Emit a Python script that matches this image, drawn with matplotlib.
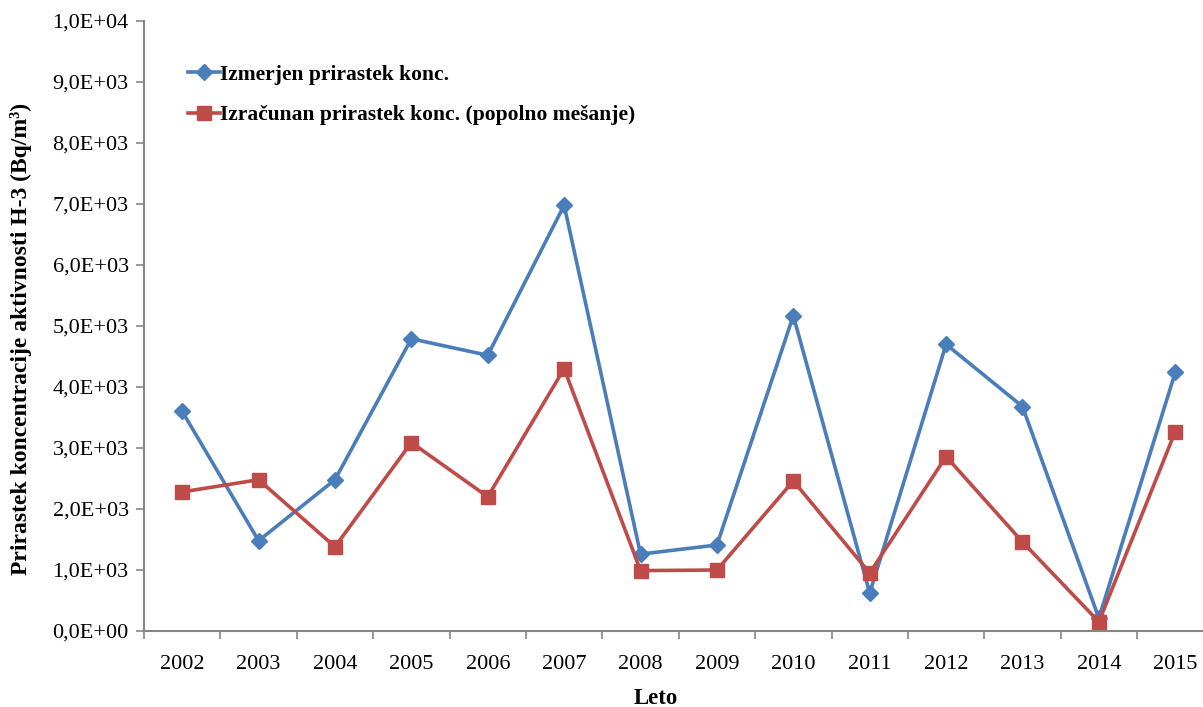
import matplotlib
matplotlib.use('Agg')
import matplotlib.pyplot as plt
from matplotlib.ticker import FuncFormatter
import numpy as np

years = ['2002', '2003', '2004', '2005', '2006', '2007', '2008',
         '2009', '2010', '2011', '2012', '2013', '2014', '2015']
izmerjen = [3600, 1480, 2480, 4790, 4520, 6980, 1260,
            1410, 5170, 620, 4700, 3680, 210, 4240]
izracunan = [2280, 2480, 1380, 3090, 2200, 4300, 990,
             1000, 2460, 950, 2860, 1460, 150, 3270]

plt.rcParams['font.family'] = ['Liberation Serif', 'DejaVu Serif']

fig = plt.figure(figsize=(12.03, 7.07), dpi=100)
ax = fig.add_axes([0.1197, 0.1075, 0.889, 0.8628])

x = np.arange(len(years))
ax.plot(x, izmerjen, color='#4A7EBB', lw=2.6, marker='D', ms=8.5,
        label='Izmerjen prirastek konc.')
ax.plot(x, izracunan, color='#BE4B48', lw=2.6, marker='s', ms=9.5,
        label='Izračunan prirastek konc. (popolno mešanje)')

ax.set_xlim(-0.5, len(years) - 0.5)
ax.set_ylim(0, 10000)
ax.set_yticks(np.arange(0, 10001, 1000))
ax.yaxis.set_major_formatter(FuncFormatter(
    lambda v, p: ('%.1E' % v).replace('.', ',')))
ax.set_xticks(x)
ax.set_xticklabels(years)
ax.set_xticks(np.arange(-0.5, len(years), 1), minor=True)
ax.tick_params(axis='x', which='major', length=0, pad=17, labelsize=16)
ax.tick_params(axis='x', which='minor', length=6, width=1.2, color='#868686')
ax.tick_params(axis='y', length=6, width=1.2, color='#868686', labelsize=16, pad=5)

for s in ['top', 'right']:
    ax.spines[s].set_visible(False)
for s in ['left', 'bottom']:
    ax.spines[s].set_color('#868686')
    ax.spines[s].set_linewidth(1.5)

ax.set_xlabel('Leto', fontsize=16.5, fontweight='bold')
ax.xaxis.set_label_coords(0.479, -0.093)
ax.set_ylabel('Prirastek koncentracije aktivnosti H-3 (Bq/m³)',
              fontsize=17, fontweight='bold')
ax.yaxis.set_label_coords(-0.105, 0.479)

ax.legend(loc='upper left', bbox_to_anchor=(0.023, 0.96), frameon=False,
          prop={'size': 15.5, 'weight': 'bold'}, handlelength=1.5,
          handletextpad=0.0, labelspacing=0.95)

plt.savefig('out.png', dpi=100)
